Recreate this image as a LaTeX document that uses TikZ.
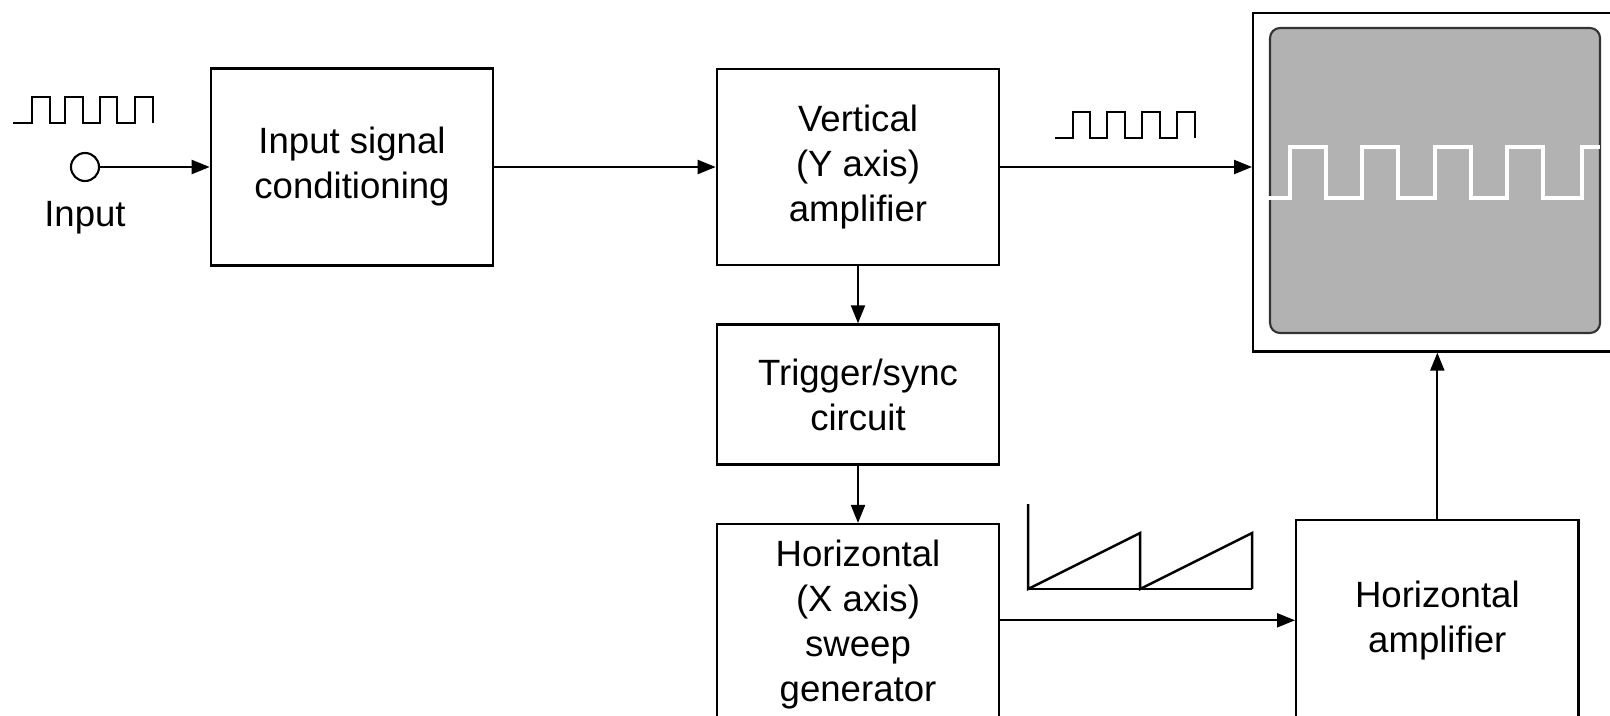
\documentclass[tikz,border=0pt]{standalone}
\usepackage{fontspec}
\setmainfont{Liberation Sans}
\usetikzlibrary{arrows.meta,positioning,calc}

\tikzset{
  block/.style={draw, line width=0.7pt, align=center, minimum width=2.82cm,
                font=\fontsize{10.4}{12.8}\selectfont},
  link/.style={-{Triangle[length=0.18cm,width=0.14cm]}, line width=0.6pt},
  trace/.style={line width=0.7pt},
}

\begin{document}
\begin{tikzpicture}[x=0.01cm, y=-0.01cm]
\path[use as bounding box, clip] (0,0) rectangle (1610,715);

\node[block, minimum height=1.97cm] (cond) at (352,167) {Input signal\\conditioning};
\node[block, minimum height=1.96cm] (vamp) at (858,167) {Vertical\\(Y axis)\\amplifier};
\node[block, minimum height=1.40cm, below=0.57cm of vamp] (trig) {Trigger/sync\\circuit};
\node[block, minimum height=2.00cm, below=0.57cm of trig] (sweep) {Horizontal\\(X axis)\\sweep\\generator};
\node[block, minimum height=2.00cm, anchor=north west] (hamp) at (1295,519) {Horizontal\\amplifier};

\node[draw, line width=0.7pt, minimum width=3.9cm, minimum height=3.38cm, anchor=north west] (crt) at (1252,12) {};
\draw[fill=black!30, draw=black!80, line width=0.6pt, rounded corners=0.1cm] (1270,28) rectangle (1600,333);
\draw[white, line width=1pt] (1268,198) foreach \x in {1290,1362,1435,1507} {
  -- (\x,198) -- (\x,147) -- (\x+36,147) -- (\x+36,198)} -- (1582,198) -- (1582,147) -- (1600,147);

\node[draw, circle, minimum size=0.28cm, inner sep=0pt, line width=0.6pt] (in) at (85,167) {};
\node[font=\fontsize{10.4}{12.8}\selectfont] (inlabel) at (85,218) {Input};

\draw[trace] (13,123) -- (32,123) -- (32,97) -- (50,97) -- (50,123) -- (65,123) -- (65,97) -- (83,97)
  -- (83,123) -- (100,123) -- (100,97) -- (117,97) -- (117,123) -- (135,123) -- (135,97) -- (153,97) -- (153,123);
\draw[trace] (1055,138) -- (1073,138) -- (1073,112) -- (1090,112) -- (1090,138) -- (1107,138) -- (1107,112)
  -- (1125,112) -- (1125,138) -- (1142,138) -- (1142,112) -- (1160,112) -- (1160,138) -- (1177,138)
  -- (1177,112) -- (1195,112) -- (1195,138);
\draw[trace] (1028,504) -- (1028,589) -- (1140,533) -- (1140,589) -- (1252,533) -- (1252,589);
\draw[trace] (1028,589) -- (1252,589);

\draw[link] (in) -- (cond);
\draw[link] (cond) -- (vamp);
\draw[link] (vamp) -- (vamp -| crt.west);
\draw[link] (vamp) -- (trig);
\draw[link] (trig) -- (sweep);
\draw[link] (sweep.east |- hamp.west) -- (hamp.west);
\draw[link] (hamp) -- (hamp |- crt.south);
\end{tikzpicture}
\end{document}
